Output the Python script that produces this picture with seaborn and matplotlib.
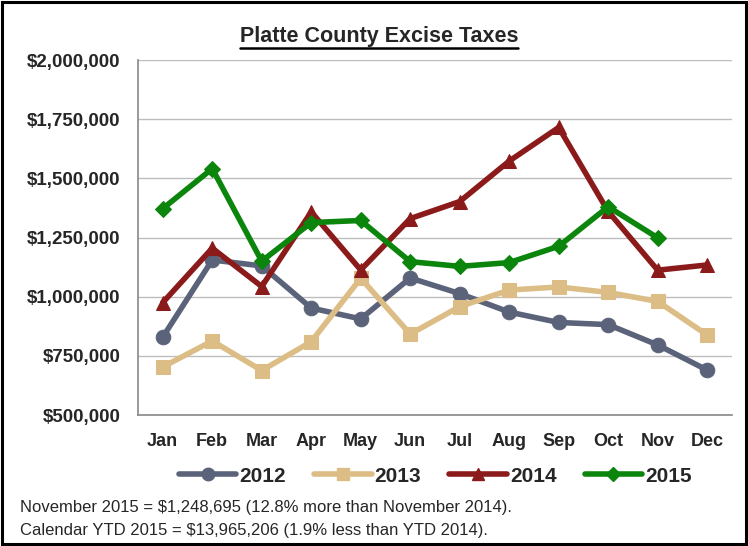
import matplotlib
matplotlib.use("Agg")
import matplotlib.pyplot as plt
import seaborn as sns
import pandas as pd
from matplotlib.lines import Line2D
from matplotlib.patches import Rectangle

# data
months = ['Jan', 'Feb', 'Mar', 'Apr', 'May', 'Jun', 'Jul', 'Aug', 'Sep', 'Oct', 'Nov', 'Dec']
years = ['2012', '2013', '2014', '2015']
tax_2012 = [829000, 1155000, 1130000, 952000, 906000, 1079000, 1013000, 935000, 891000, 882000, 796000, 690000]
tax_2013 = [703000, 813000, 688000, 810000, 1078000, 842000, 958000, 1028000, 1041000, 1018000, 980000, 838000]
tax_2014 = [975000, 1205000, 1043000, 1358000, 1113000, 1330000, 1402000, 1573000, 1715000, 1360000, 1112000, 1134000]
tax_2015 = [1372000, 1541000, 1150000, 1313000, 1322000, 1148000, 1128000, 1144000, 1213000, 1380000, 1248695, None]
footnote = ["November 2015 = $1,248,695 (12.8% more than November 2014).",
            "Calendar YTD 2015 = $13,965,206 (1.9% less than YTD 2014)."]

colors = {'2012': '#5a6379', '2013': '#dcbd85', '2014': '#8b1a1a', '2015': '#0b850b'}
marks = {'2012': 'o', '2013': 's', '2014': '^', '2015': 'D'}

rows = []
for yr, vals in zip(years, [tax_2012, tax_2013, tax_2014, tax_2015]):
    for i, v in enumerate(vals):
        if v is not None:
            rows.append({'month': i, 'year': yr, 'value': v})
df = pd.DataFrame(rows)

sns.set_style("white")
plt.rcParams['font.family'] = ['Liberation Sans', 'DejaVu Sans']

fig = plt.figure(figsize=(7.48, 5.46), dpi=100)
ax = fig.add_axes([0.1845, 0.2399, 0.794, 0.6502])

for yr in years:
    sub = df[df['year'] == yr]
    sns.lineplot(data=sub, x='month', y='value', ax=ax, color=colors[yr],
                 marker=marks[yr], markersize=10.5 if marks[yr] != 'D' else 8.5,
                 markeredgecolor=colors[yr], linewidth=4, label=yr, legend=False)

ax.set_xlim(-0.5, 11.5)
ax.set_ylim(500000, 2000000)
ax.set_yticks(range(500000, 2000001, 250000))
ax.set_yticklabels([f"${v:,.0f}" for v in range(500000, 2000001, 250000)],
                   fontsize=13.5, fontweight='bold')
ax.set_xticks(range(12))
ax.set_xticklabels(months, fontsize=13, fontweight='bold')
ax.set_xticks([i - 0.5 for i in range(13)], minor=True)
ax.tick_params(axis='x', which='major', length=0, pad=13)
ax.tick_params(axis='x', which='minor', length=4.5, color='#888888', width=1)
ax.tick_params(axis='y', length=3.5, color='#888888', width=1, pad=9)
ax.set_xlabel('')
ax.set_ylabel('')
ax.grid(axis='y', color='#bdbdbd', linewidth=1)
ax.set_axisbelow(True)
for s in ['top', 'right']:
    ax.spines[s].set_visible(False)
for s in ['left', 'bottom']:
    ax.spines[s].set_color('#888888')
    ax.spines[s].set_linewidth(1.2)

# legend
handles = [Line2D([0], [0], color=colors[y], lw=4, marker=marks[y],
                  markersize=9 if marks[y] != 'D' else 7) for y in years]
fig.legend(handles, years, loc='center', bbox_to_anchor=(0.582, 0.128), ncol=4,
           frameon=False, handlelength=2.75, handletextpad=0.15, columnspacing=1.35,
           prop={'weight': 'bold', 'size': 15})

# title with underline
title = fig.text(0.507, 0.934, 'Platte County Excise Taxes', ha='center', va='center',
                 fontsize=15.5, fontweight='bold')
fig.canvas.draw()
bb = title.get_window_extent().transformed(fig.transFigure.inverted())
fig.add_artist(Line2D([bb.x0, bb.x1], [bb.y0 - 0.002, bb.y0 - 0.002],
                      transform=fig.transFigure, color='black', lw=1.8))

fig.text(0.027, 0.071, footnote[0], fontsize=12, va='center')
fig.text(0.027, 0.029, footnote[1], fontsize=12, va='center')

# outer border
fig.add_artist(Rectangle((0.003, 0.004), 0.994, 0.992, transform=fig.transFigure,
                         fill=False, edgecolor='black', lw=2.2))

fig.savefig('out.png', dpi=100)
